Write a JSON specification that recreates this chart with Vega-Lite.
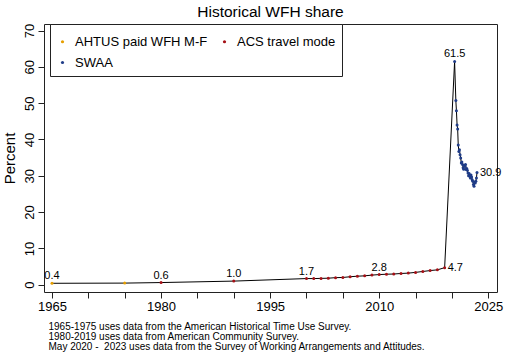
{
  "$schema": "https://vega.github.io/schema/vega-lite/v6.json",
  "width": 453,
  "height": 268,
  "autosize": {"type": "none"},
  "padding": {"left": 44, "top": 24, "right": 15, "bottom": 71},
  "background": "white",
  "config": {
    "font": "Liberation Sans",
    "view": {"stroke": "#222", "strokeWidth": 1},
    "axis": {"grid": false, "labelColor": "black", "tickColor": "#222", "titleColor": "black", "labelFont": "Liberation Sans", "titleFont": "Liberation Sans"}
  },
  "title": {"text": "Historical WFH share", "fontSize": 15.5, "fontWeight": "normal", "font": "Liberation Sans", "color": "black", "anchor": "middle", "frame": "group", "baseline": "bottom", "offset": 5, "dy": 17.5},
  "data": {"values": [
    {"year": 1965, "value": 0.4, "series": "AHTUS paid WFH M-F", "label": "0.4"},
    {"year": 1975, "value": 0.45, "series": "AHTUS paid WFH M-F", "label": ""},
    {"year": 1980, "value": 0.6, "series": "ACS travel mode", "label": "0.6"},
    {"year": 1990, "value": 1.0, "series": "ACS travel mode", "label": "1.0"},
    {"year": 2000, "value": 1.7, "series": "ACS travel mode", "label": "1.7"},
    {"year": 2001, "value": 1.7, "series": "ACS travel mode", "label": ""},
    {"year": 2002, "value": 1.75, "series": "ACS travel mode", "label": ""},
    {"year": 2003, "value": 1.8, "series": "ACS travel mode", "label": ""},
    {"year": 2004, "value": 1.95, "series": "ACS travel mode", "label": ""},
    {"year": 2005, "value": 2.0, "series": "ACS travel mode", "label": ""},
    {"year": 2006, "value": 2.2, "series": "ACS travel mode", "label": ""},
    {"year": 2007, "value": 2.35, "series": "ACS travel mode", "label": ""},
    {"year": 2008, "value": 2.45, "series": "ACS travel mode", "label": ""},
    {"year": 2009, "value": 2.65, "series": "ACS travel mode", "label": ""},
    {"year": 2010, "value": 2.8, "series": "ACS travel mode", "label": "2.8"},
    {"year": 2011, "value": 2.9, "series": "ACS travel mode", "label": ""},
    {"year": 2012, "value": 2.95, "series": "ACS travel mode", "label": ""},
    {"year": 2013, "value": 3.1, "series": "ACS travel mode", "label": ""},
    {"year": 2014, "value": 3.2, "series": "ACS travel mode", "label": ""},
    {"year": 2015, "value": 3.4, "series": "ACS travel mode", "label": ""},
    {"year": 2016, "value": 3.65, "series": "ACS travel mode", "label": ""},
    {"year": 2017, "value": 3.9, "series": "ACS travel mode", "label": ""},
    {"year": 2018, "value": 4.1, "series": "ACS travel mode", "label": ""},
    {"year": 2019, "value": 4.7, "series": "ACS travel mode", "label": "4.7"},
    {"year": 2020.37, "value": 61.5, "series": "SWAA", "label": "61.5"},
    {"year": 2020.54, "value": 50.7, "series": "SWAA", "label": ""},
    {"year": 2020.62, "value": 47.9, "series": "SWAA", "label": ""},
    {"year": 2020.71, "value": 44.0, "series": "SWAA", "label": ""},
    {"year": 2020.79, "value": 42.9, "series": "SWAA", "label": ""},
    {"year": 2020.87, "value": 38.5, "series": "SWAA", "label": ""},
    {"year": 2020.96, "value": 36.7, "series": "SWAA", "label": ""},
    {"year": 2021.04, "value": 37.2, "series": "SWAA", "label": ""},
    {"year": 2021.12, "value": 35.8, "series": "SWAA", "label": ""},
    {"year": 2021.21, "value": 34.9, "series": "SWAA", "label": ""},
    {"year": 2021.29, "value": 33.5, "series": "SWAA", "label": ""},
    {"year": 2021.37, "value": 33.8, "series": "SWAA", "label": ""},
    {"year": 2021.46, "value": 33.1, "series": "SWAA", "label": ""},
    {"year": 2021.54, "value": 32.2, "series": "SWAA", "label": ""},
    {"year": 2021.62, "value": 31.8, "series": "SWAA", "label": ""},
    {"year": 2021.71, "value": 32.9, "series": "SWAA", "label": ""},
    {"year": 2021.79, "value": 32.6, "series": "SWAA", "label": ""},
    {"year": 2021.87, "value": 33.1, "series": "SWAA", "label": ""},
    {"year": 2021.96, "value": 31.7, "series": "SWAA", "label": ""},
    {"year": 2022.04, "value": 32.0, "series": "SWAA", "label": ""},
    {"year": 2022.12, "value": 31.5, "series": "SWAA", "label": ""},
    {"year": 2022.21, "value": 30.8, "series": "SWAA", "label": ""},
    {"year": 2022.29, "value": 30.0, "series": "SWAA", "label": ""},
    {"year": 2022.37, "value": 30.6, "series": "SWAA", "label": ""},
    {"year": 2022.46, "value": 29.9, "series": "SWAA", "label": ""},
    {"year": 2022.54, "value": 29.4, "series": "SWAA", "label": ""},
    {"year": 2022.62, "value": 30.2, "series": "SWAA", "label": ""},
    {"year": 2022.71, "value": 29.7, "series": "SWAA", "label": ""},
    {"year": 2022.79, "value": 28.9, "series": "SWAA", "label": ""},
    {"year": 2022.87, "value": 28.5, "series": "SWAA", "label": ""},
    {"year": 2022.96, "value": 27.6, "series": "SWAA", "label": ""},
    {"year": 2023.04, "value": 27.1, "series": "SWAA", "label": ""},
    {"year": 2023.12, "value": 28.3, "series": "SWAA", "label": ""},
    {"year": 2023.21, "value": 28.0, "series": "SWAA", "label": ""},
    {"year": 2023.29, "value": 28.5, "series": "SWAA", "label": ""},
    {"year": 2023.37, "value": 29.4, "series": "SWAA", "label": ""},
    {"year": 2023.45, "value": 30.9, "series": "SWAA", "label": "30.9"}
  ]},
  "encoding": {
    "x": {
      "field": "year", "type": "quantitative",
      "scale": {"domain": [1963.9, 2026.2], "nice": false, "zero": false},
      "axis": {
        "values": [1965, 1970, 1975, 1980, 1985, 1990, 1995, 2000, 2005, 2010, 2015, 2020, 2025],
        "labelExpr": "(datum.value - 1965) % 15 == 0 ? datum.value : ''",
        "domain": false, "tickSize": 6, "labelFontSize": 13, "labelPadding": 2, "labelFlush": false, "labelOverlap": false,
        "title": ["1965-1975 uses data from the American Historical Time Use Survey.", "1980-2019 uses data from American Community Survey.", "May 2020 - \u00a02023 uses data from the Survey of Working Arrangements and Attitudes."],
        "titleFontSize": 10, "titleFontWeight": "normal", "titleAnchor": "start", "titleAlign": "left", "titleBaseline": "alphabetic",
        "titleX": 4, "titleY": 37, "titleLineHeight": 10
      }
    },
    "y": {
      "field": "value", "type": "quantitative",
      "scale": {"domain": [-2.0, 71.8], "nice": false, "zero": false},
      "axis": {
        "values": [0, 10, 20, 30, 40, 50, 60, 70],
        "domain": false, "tickSize": 6, "labelFontSize": 13, "labelAngle": 270, "labelPadding": 2, "labelFlush": false,
        "title": "Percent", "titleFontSize": 15, "titleFontWeight": "normal", "titlePadding": 6
      }
    }
  },
  "layer": [
    {
      "mark": {"type": "line", "color": "black", "strokeWidth": 1},
      "encoding": {"order": {"field": "year", "type": "quantitative"}}
    },
    {
      "mark": {"type": "point", "filled": true, "size": 9, "opacity": 1, "shape": "circle"},
      "encoding": {
        "color": {
          "field": "series", "type": "nominal",
          "scale": {"domain": ["AHTUS paid WFH M-F", "ACS travel mode", "SWAA"], "range": ["#E69F00", "#A50F15", "#1F3C88"]},
          "legend": {
            "orient": "none", "legendX": 6, "legendY": 0, "direction": "horizontal", "columns": 2,
            "title": " ", "titleFontSize": 5, "titlePadding": 0,
            "padding": 6, "strokeColor": "#222", "fillColor": "white",
            "labelFontSize": 13, "labelFont": "Liberation Sans", "labelColor": "black", "labelOffset": 6,
            "symbolType": "circle", "symbolSize": 10, "symbolStrokeWidth": 0,
            "columnPadding": 10, "rowPadding": 7
          }
        }
      }
    },
    {
      "transform": [{"filter": "datum.label != '' && datum.label != '4.7' && datum.label != '30.9'"}],
      "mark": {"type": "text", "fontSize": 11, "font": "Liberation Sans", "color": "black", "baseline": "alphabetic", "align": "center", "dy": -4},
      "encoding": {"text": {"field": "label"}}
    },
    {
      "transform": [{"filter": "datum.label == '4.7' || datum.label == '30.9'"}],
      "mark": {"type": "text", "fontSize": 11, "font": "Liberation Sans", "color": "black", "baseline": "middle", "align": "left", "dx": 3},
      "encoding": {"text": {"field": "label"}}
    }
  ]
}
